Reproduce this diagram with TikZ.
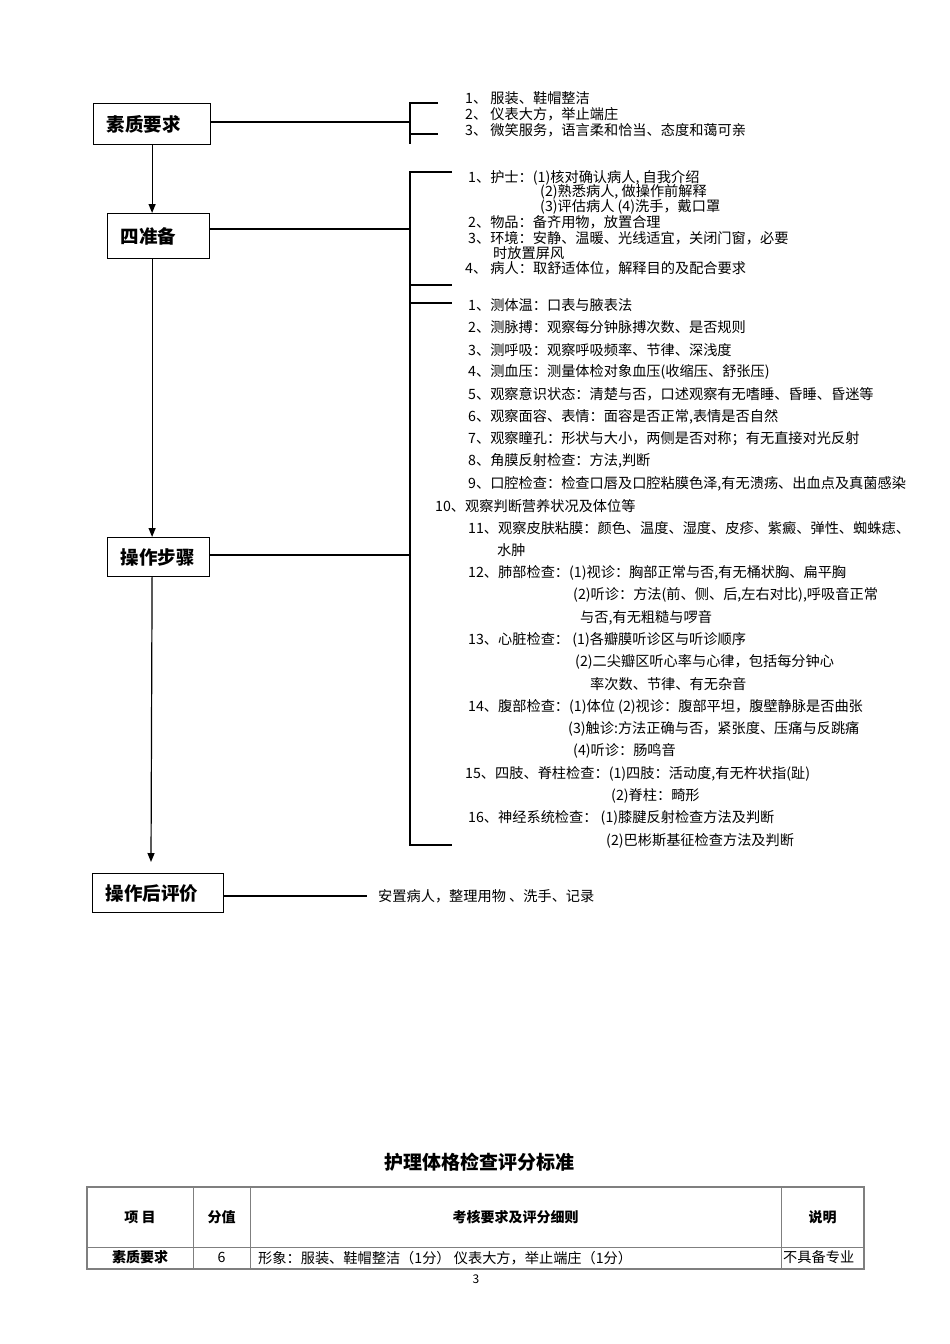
\documentclass[tikz,border=0pt]{standalone}
\usepackage{fontspec}
\setmainfont{Noto Sans CJK SC}
\usetikzlibrary{arrows.meta,positioning}
\definecolor{ink}{HTML}{111111}
\definecolor{rule}{HTML}{7F7F7F}

\begin{document}
\begin{tikzpicture}[x=1pt, y=-1pt,
    box/.style={draw, line width=1.2pt, anchor=north west, inner xsep=13pt, inner ysep=0pt, align=left, font=\fontsize{18.5}{20}\selectfont\bfseries},
    item/.style={anchor=west, inner sep=0pt, font=\fontsize{14.2}{15}\selectfont},
    arrow/.style={-{Triangle[length=9pt,width=7pt]}, line width=1.2pt},
    link/.style={line width=1.2pt},
    cell/.style={inner sep=0pt, font=\fontsize{14.2}{15}\selectfont},
    grid/.style={draw=rule, line width=0.9pt}
]
    \useasboundingbox (0,0) rectangle (950,1344);

    % flow boxes
    \node[box, text width=91pt, minimum height=41pt] (suzhi) at (93,103) {素质要求};
    \node[box, text width=76pt, minimum height=45pt] (zhunbei) at (107,213) {四准备};
    \node[box, text width=76pt, minimum height=39pt] (buzhou) at (107,537) {操作步骤};
    \node[box, text width=105pt, minimum height=39pt] (pingjia) at (92,873) {操作后评价};
    \coordinate (flowend) at (151,862);

    \draw[arrow] (suzhi.south) -- (suzhi.south |- zhunbei.north);
    \draw[arrow] (zhunbei.south -| suzhi.south) -- (buzhou.north -| suzhi.south);
    \draw[arrow] (buzhou.south -| suzhi.south) -- (flowend);

    % brackets
    \coordinate (q1) at (410,122);
    \coordinate (q2) at (410,229);
    \coordinate (q3) at (410,555);
    \coordinate (q4) at (367,896);
    \draw[link] (suzhi.east |- q1) -- (q1);
    \draw[link] (438,103) -- (410,103) -- (410,144);
    \draw[link] (410,134) -- (438,134);
    \draw[link] (zhunbei.east |- q2) -- (q2);
    \draw[link] (452,172) -- (410,172) -- (410,845) -- (452,845);
    \draw[link] (410,285) -- (452,285);
    \draw[link] (410,303) -- (452,303);
    \draw[link] (buzhou.east |- q3) -- (q3);
    \draw[link] (pingjia.east |- q4) -- (q4);

    % 素质要求
    \node[item] (a1) at (465,98) {1、\ 服装、鞋帽整洁};
    \node[item] (a2) at (465,114) {2、\ 仪表大方，举止端庄};
    \node[item] (a3) at (465,130) {3、\ 微笑服务，语言柔和恰当、态度和蔼可亲};

    % 四准备
    \node[item] (b1) at (468,178) {1、护士：(1)核对确认病人, 自我介绍};
    \node[item] (b1b) at (540,192) {(2)熟悉病人, 做操作前解释};
    \node[item] (b1c) at (540,207) {(3)评估病人 (4)洗手，戴口罩};
    \node[item] (b2) at (468,222) {2、物品：备齐用物，放置合理};
    \node[item] (b3) at (468,238) {3、环境：安静、温暖、光线适宜，关闭门窗，必要};
    \node[item] (b3b) at (493,253) {时放置屏风};
    \node[item] (b4) at (465,268) {4、\ 病人：取舒适体位，解释目的及配合要求};

    % 操作步骤
    \node[item] (c1) at (468,305) {1、测体温：口表与腋表法};
    \node[item] (c2) at (468,327) {2、测脉搏：观察每分钟脉搏次数、是否规则};
    \node[item] (c3) at (468,350) {3、测呼吸：观察呼吸频率、节律、深浅度};
    \node[item] (c4) at (468,372) {4、测血压：测量体检对象血压(收缩压、舒张压)};
    \node[item] (c5) at (468,394) {5、观察意识状态：清楚与否，口述观察有无嗜睡、昏睡、昏迷等};
    \node[item] (c6) at (468,417) {6、观察面容、表情：面容是否正常,表情是否自然};
    \node[item] (c7) at (468,439) {7、观察瞳孔：形状与大小，两侧是否对称；有无直接对光反射};
    \node[item] (c8) at (468,461) {8、角膜反射检查：方法,判断};
    \node[item] (c9) at (468,484) {9、口腔检查：检查口唇及口腔粘膜色泽,有无溃疡、出血点及真菌感染};
    \node[item] (c10) at (435,506) {10、观察判断营养状况及体位等};
    \node[item] (c11) at (468,528) {11、观察皮肤粘膜：颜色、温度、湿度、皮疹、紫癜、弹性、蜘蛛痣、};
    \node[item] (c11b) at (497,550) {水肿};
    \node[item] (c12) at (468,573) {12、肺部检查：(1)视诊：胸部正常与否,有无桶状胸、扁平胸};
    \node[item] (c12b) at (573,595) {(2)听诊：方法(前、侧、后,左右对比),呼吸音正常};
    \node[item] (c12c) at (580,618) {与否,有无粗糙与啰音};
    \node[item] (c13) at (468,640) {13、心脏检查：\ (1)各瓣膜听诊区与听诊顺序};
    \node[item] (c13b) at (575,662) {(2)二尖瓣区听心率与心律，包括每分钟心};
    \node[item] (c13c) at (590,684) {率次数、节律、有无杂音};
    \node[item] (c14) at (468,707) {14、腹部检查：(1)体位 (2)视诊：腹部平坦，腹壁静脉是否曲张};
    \node[item] (c14b) at (568,729) {(3)触诊:方法正确与否，紧张度、压痛与反跳痛};
    \node[item] (c14c) at (573,751) {(4)听诊：肠鸣音};
    \node[item] (c15) at (465,774) {15、四肢、脊柱检查：(1)四肢：活动度,有无杵状指(趾)};
    \node[item] (c15b) at (611,796) {(2)脊柱：畸形};
    \node[item] (c16) at (468,818) {16、神经系统检查：\ (1)膝腱反射检查方法及判断};
    \node[item] (c16b) at (606,841) {(2)巴彬斯基征检查方法及判断};

    % 操作后评价
    \node[item] (d1) at (378,896) {安置病人，整理用物\ 、洗手、记录};

    % score table
    \node[font=\fontsize{19}{21}\selectfont\bfseries] (title) at (479,1162) {护理体格检查评分标准};
    \draw[grid, line width=1.5pt] (87,1187) rectangle (864,1269);
    \draw[grid] (87,1247) -- (864,1247);
    \foreach \cx in {193,250,781} \draw[grid] (\cx,1187) -- (\cx,1269);
    \node[cell, font=\fontsize{14}{15}\selectfont\bfseries] (h1) at (140,1217) {项\ 目};
    \node[cell, font=\fontsize{14}{15}\selectfont\bfseries] (h2) at (221.5,1217) {分值};
    \node[cell, font=\fontsize{14}{15}\selectfont\bfseries] (h3) at (515.5,1217) {考核要求及评分细则};
    \node[cell, font=\fontsize{14}{15}\selectfont\bfseries] (h4) at (822.5,1217) {说明};
    \node[cell, font=\fontsize{14}{15}\selectfont\bfseries] (r1) at (140,1257) {素质要求};
    \node[cell] (r2) at (221.5,1257) {6};
    \node[cell, anchor=west] (r3) at (258,1258) {形象：服装、鞋帽整洁（1分）\ 仪表大方，举止端庄（1分）};
    \node[cell, anchor=west] (r4) at (783,1257) {不具备专业};
    \node[cell, font=\fontsize{12}{13}\selectfont] (page) at (476,1279) {3};
\end{tikzpicture}
\end{document}
